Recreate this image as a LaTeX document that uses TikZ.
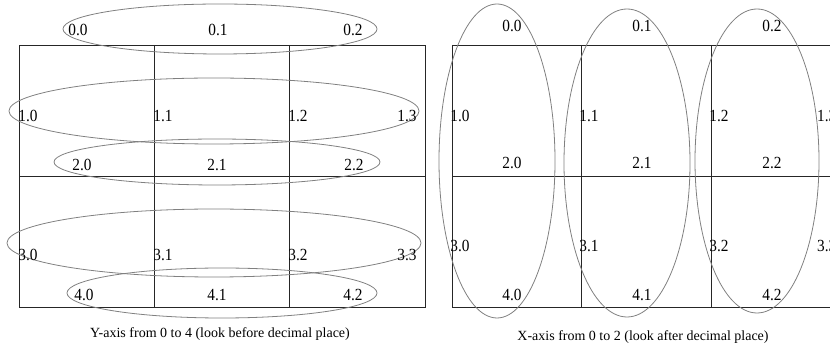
\documentclass[tikz,border=0pt]{standalone}
\usepackage{fontspec}
\setmainfont{Liberation Serif}
\newfontfamily\labfont[FakeStretch=0.9]{Liberation Serif}
\begin{document}
\begin{tikzpicture}[x=1pt,y=-1pt,
  gridline/.style={draw=black!85,line width=0.9pt},
  ring/.style={draw=black!50,line width=0.8pt},
  lab/.style={inner sep=0pt,font=\labfont\fontsize{17}{17}\selectfont},
  captext/.style={inner sep=0pt,font=\fontsize{14}{14}\selectfont}]
\useasboundingbox (0,0) rectangle (830,352);
\clip (0,0) rectangle (830,352);
% left grid
\draw[gridline] (19,45) rectangle (425,307);
\draw[gridline] (19,176) -- (425,176);
\draw[gridline] (154,45) -- (154,307);
\draw[gridline] (289,45) -- (289,307);
% right grid
\draw[gridline] (452,45) -- (845,45);
\draw[gridline] (452,176) -- (845,176);
\draw[gridline] (452,307) -- (845,307);
\draw[gridline] (452,45) -- (452,307);
\draw[gridline] (581,45) -- (581,307);
\draw[gridline] (711,45) -- (711,307);
% left ellipses (rows)
\draw[ring] (220,29) ellipse [x radius=157pt, y radius=25pt];
\draw[ring] (214,111) ellipse [x radius=205pt, y radius=33pt];
\draw[ring] (217,162) ellipse [x radius=163pt, y radius=23pt];
\draw[ring] (214,243) ellipse [x radius=207pt, y radius=34pt];
\draw[ring] (222,293) ellipse [x radius=155pt, y radius=25pt];
% right ellipses (columns)
\draw[ring] (497,161) ellipse [x radius=58pt, y radius=157pt];
\draw[ring] (627,163) ellipse [x radius=63pt, y radius=154pt];
\draw[ring] (757,161) ellipse [x radius=62pt, y radius=152pt];
% left labels
\node[lab] (l00) at (78,30) {0.0};
\node[lab] (l01) at (218,30) {0.1};
\node[lab] (l02) at (353,30) {0.2};
\node[lab] (l10) at (28,116) {1.0};
\node[lab] (l11) at (163,116) {1.1};
\node[lab] (l12) at (298,116) {1.2};
\node[lab] (l13) at (407,116) {1.3};
\node[lab] (l20) at (82,165) {2.0};
\node[lab] (l21) at (217,165) {2.1};
\node[lab] (l22) at (354,165) {2.2};
\node[lab] (l30) at (28,255) {3.0};
\node[lab] (l31) at (163,255) {3.1};
\node[lab] (l32) at (298,255) {3.2};
\node[lab] (l33) at (407,255) {3.3};
\node[lab] (l40) at (84,295) {4.0};
\node[lab] (l41) at (217,295) {4.1};
\node[lab] (l42) at (353,295) {4.2};
% right labels
\node[lab] (r00) at (512,26) {0.0};
\node[lab] (r01) at (642,26) {0.1};
\node[lab] (r02) at (772,26) {0.2};
\node[lab] (r10) at (460,116) {1.0};
\node[lab] (r11) at (589,116) {1.1};
\node[lab] (r12) at (719,116) {1.2};
\node[lab,anchor=west] (r13) at (817,116) {1.3};
\node[lab] (r20) at (512,163) {2.0};
\node[lab] (r21) at (642,163) {2.1};
\node[lab] (r22) at (772,163) {2.2};
\node[lab] (r30) at (460,246) {3.0};
\node[lab] (r31) at (589,246) {3.1};
\node[lab] (r32) at (719,246) {3.2};
\node[lab,anchor=west] (r33) at (817,246) {3.3};
\node[lab] (r40) at (512,295) {4.0};
\node[lab] (r41) at (642,295) {4.1};
\node[lab] (r42) at (772,295) {4.2};
% captions
\node[captext] (capl) at (220,334) {Y-axis from 0 to 4 (look before decimal place)};
\node[captext] (capr) at (643,337) {X-axis from 0 to 2 (look after decimal place)};
\end{tikzpicture}
\end{document}
